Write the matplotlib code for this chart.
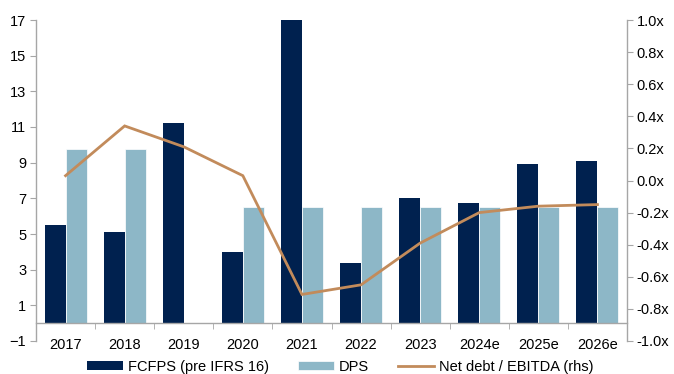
import matplotlib
matplotlib.use("Agg")
import matplotlib.pyplot as plt
import numpy as np
from matplotlib.ticker import FuncFormatter

plt.rcParams['font.family'] = ['Liberation Sans', 'DejaVu Sans']

years = ["2017", "2018", "2019", "2020", "2021", "2022", "2023", "2024e", "2025e", "2026e"]
fcfps = [5.5, 5.1, 11.25, 4.0, 17.0, 3.4, 7.0, 6.75, 8.9, 9.1]
dps = [9.75, 9.75, 0.0, 6.5, 6.5, 6.5, 6.5, 6.5, 6.5, 6.5]
net_debt_ebitda = [0.03, 0.34, 0.21, 0.03, -0.71, -0.65, -0.39, -0.20, -0.16, -0.15]

navy = "#00214F"
light = "#8DB7C7"
tan = "#C28B5B"
axis_gray = "#A6A6A6"

fig = plt.figure(figsize=(6.74, 3.74), dpi=100)
ax = fig.add_axes([36/674, 1-341/374, (627-36)/674, (341-20)/374])
ax2 = ax.twinx()

x = np.arange(len(years))
w = 0.355
ax.bar(x - w/2, fcfps, width=w, color=navy, label="FCFPS (pre IFRS 16)", zorder=2)
ax.bar(x + w/2, dps, width=w, color=light, edgecolor="white", linewidth=0.5,
       label="DPS", zorder=2)
ax2.plot(x, net_debt_ebitda, color=tan, linewidth=2.0, label="Net debt / EBITDA (rhs)",
         solid_joinstyle="miter")

ax.set_xlim(-0.5, len(years) - 0.5)
ax.set_ylim(-1, 17)
ax.set_yticks(np.arange(-1, 18, 2))
ax2.set_ylim(-1, 1)
ax2.set_yticks(np.arange(-1.0, 1.01, 0.2))
ax2.yaxis.set_major_formatter(FuncFormatter(lambda v, p: f"{v:.1f}x".replace("-0.0", "0.0")))

fs = 10.5
for a in (ax, ax2):
    a.spines['top'].set_visible(False)
ax.spines['right'].set_visible(False)
ax2.spines['left'].set_visible(False)
ax2.spines['bottom'].set_visible(False)
ax.spines['bottom'].set_position(('data', 0))
for sp in (ax.spines['left'], ax.spines['bottom'], ax2.spines['right']):
    sp.set_color(axis_gray)
    sp.set_linewidth(1.0)

ax.tick_params(axis='y', direction='out', length=4, color=axis_gray, labelsize=fs, pad=3)
ax2.tick_params(axis='y', direction='out', length=4, color=axis_gray, labelsize=fs, pad=3)

ax.set_xticks(x)
ax.set_xticklabels(years)
ax.set_xticks(np.arange(-0.5, len(years), 1.0), minor=True)
ax.tick_params(axis='x', which='major', length=0, labelsize=fs, pad=10.5)
ax.tick_params(axis='x', which='minor', length=4, direction='out', color=axis_gray)

h1, l1 = ax.get_legend_handles_labels()
h2, l2 = ax2.get_legend_handles_labels()
fig.legend(h1 + h2, l1 + l2, loc='center', bbox_to_anchor=(0.505, 1-367/374),
           ncol=3, frameon=False, fontsize=fs, handlelength=2.47, handleheight=0.55,
           handletextpad=0.34, columnspacing=2.0)

fig.savefig("out.png", dpi=100)
